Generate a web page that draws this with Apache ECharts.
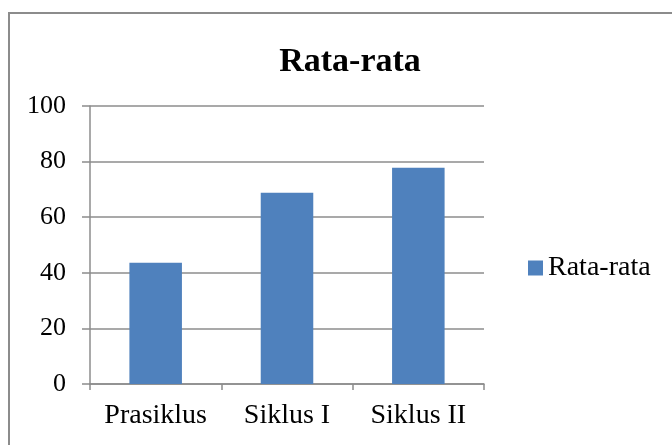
<!DOCTYPE html>
<html>
<head>
<meta charset="utf-8">
<script src="https://cdn.jsdelivr.net/npm/echarts@6/dist/echarts.min.js"></script>
<style>
  html, body { margin: 0; padding: 0; background: #fff; }
  #chart { width: 672px; height: 445px; }
</style>
</head>
<body>
<div id="chart"></div>
<script>
const categories = ["Prasiklus", "Siklus I", "Siklus II"];
const rataRata = [43.6, 68.8, 77.8];
const seriesName = "Rata-rata";

const font = "'Liberation Serif', serif";
const chart = echarts.init(document.getElementById("chart"));

chart.setOption({
  animation: false,
  title: {
    text: "Rata-rata",
    left: 345,
    top: 40,
    textAlign: "center",
    textStyle: { fontFamily: font, fontSize: 34, fontWeight: "bold", color: "#000" }
  },
  legend: {
    left: 523,
    top: 249,
    itemWidth: 15,
    itemHeight: 15,
    itemGap: 6,
    icon: "rect",
    textStyle: { fontFamily: font, fontSize: 28, color: "#000" },
    data: [seriesName]
  },
  graphic: [
    {
      type: "rect",
      shape: { x: 9, y: 13, width: 700, height: 500 },
      style: { fill: "none", stroke: "#8c8c8c", lineWidth: 2 },
      silent: true
    }
  ],
  grid: { left: 90, right: 188, top: 106, bottom: 61 },
  xAxis: {
    type: "category",
    data: categories,
    axisLine: { lineStyle: { color: "#8c8c8c", width: 1.5 } },
    axisTick: { show: true, length: 6, lineStyle: { color: "#8c8c8c", width: 1.5 } },
    axisLabel: { interval: 0, hideOverlap: false, margin: 18, fontFamily: font, fontSize: 28, color: "#000" }
  },
  yAxis: {
    type: "value",
    min: 0,
    max: 100,
    interval: 20,
    axisLine: { show: true, lineStyle: { color: "#8c8c8c", width: 1.5 } },
    axisTick: { show: true, length: 8, lineStyle: { color: "#8c8c8c", width: 1.5 } },
    splitLine: { lineStyle: { color: "#8c8c8c", width: 1.5 } },
    axisLabel: { margin: 24, fontFamily: font, fontSize: 26, color: "#000" }
  },
  series: [
    {
      name: seriesName,
      type: "bar",
      data: rataRata,
      barWidth: "40%",
      itemStyle: { color: "#4f81bd" }
    }
  ]
});
</script>
</body>
</html>
